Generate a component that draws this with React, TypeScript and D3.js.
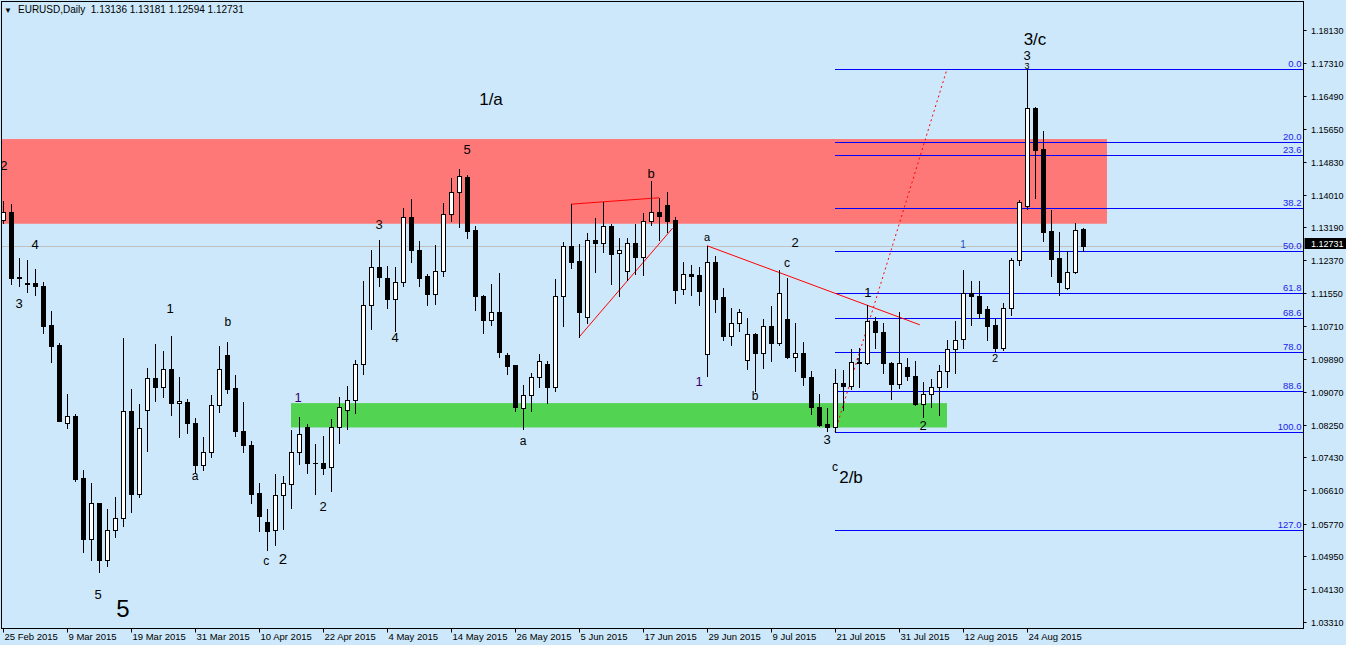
import React from "react";
import * as d3 from "d3";

// ---- categories (trading days, Feb 25 – Sep 2 2015) ----
const tradingDays: [string, number[]][] = [
  ["Feb", [25, 26, 27]],
  ["Mar", [2, 3, 4, 5, 6, 9, 10, 11, 12, 13, 16, 17, 18, 19, 20, 23, 24, 25, 26, 27, 30, 31]],
  ["Apr", [1, 2, 3, 6, 7, 8, 9, 10, 13, 14, 15, 16, 17, 20, 21, 22, 23, 24, 27, 28, 29, 30]],
  ["May", [1, 4, 5, 6, 7, 8, 11, 12, 13, 14, 15, 18, 19, 20, 21, 22, 25, 26, 27, 28, 29]],
  ["Jun", [1, 2, 3, 4, 5, 8, 9, 10, 11, 12, 15, 16, 17, 18, 19, 22, 23, 24, 25, 26, 29, 30]],
  ["Jul", [1, 2, 3, 6, 7, 8, 9, 10, 13, 14, 15, 16, 17, 20, 21, 22, 23, 24, 27, 28, 29, 30, 31]],
  ["Aug", [3, 4, 5, 6, 7, 10, 11, 12, 13, 14, 17, 18, 19, 20, 21, 24, 25, 26, 27, 28, 31]],
  ["Sep", [1, 2]],
];
const dates: string[] = tradingDays.flatMap(([m, ds]) => ds.map((d) => `${d} ${m} 2015`));

// ---- OHLC series ----
const opens = [
  1.1337, 1.1357, 1.1195, 1.1179, 1.1180, 1.1172, 1.1075, 1.1025, 1.0828, 1.0846,
  1.0692, 1.0540, 1.0629, 1.0486, 1.0561, 1.0591, 1.0859, 1.0652, 1.0861, 1.0941,
  1.0919, 1.0964, 1.0879, 1.0882, 1.0829, 1.0725, 1.0756, 1.0874, 1.0999, 1.0916,
  1.0810, 1.0774, 1.0654, 1.0582, 1.0561, 1.0648, 1.0677, 1.0756, 1.0818, 1.0730,
  1.0729, 1.0718, 1.0819, 1.0861, 1.0887, 1.0976, 1.1124, 1.1219, 1.1192, 1.1140,
  1.1182, 1.1344, 1.1262, 1.1197, 1.1151, 1.1209, 1.1352, 1.1407, 1.1445, 1.1312,
  1.1147, 1.1088, 1.1107, 1.0999, 1.0974, 1.0866, 1.0899, 1.0944, 1.0977, 1.0920,
  1.1146, 1.1272, 1.1234, 1.1094, 1.1287, 1.1279, 1.1322, 1.1254, 1.1209, 1.1279,
  1.1244, 1.1334, 1.1357, 1.1374, 1.1337, 1.1164, 1.1201, 1.1199, 1.1001, 1.1232,
  1.1145, 1.1048, 1.1079, 1.0986, 1.1051, 1.1005, 1.1071, 1.1030, 1.1089, 1.0995,
  1.1004, 1.0945, 1.0869, 1.0827, 1.0819, 1.0929, 1.0923, 1.0981, 1.0979, 1.1085,
  1.1056, 1.0979, 1.0926, 1.0969, 1.0947, 1.0876, 1.0901, 1.0920, 1.0960, 1.1014,
  1.1039, 1.1154, 1.1147, 1.1115, 1.1075, 1.1018, 1.1117, 1.1236, 1.1373, 1.1618,
  1.1515, 1.1310, 1.1242, 1.1167, 1.1206, 1.13136,
];
const highs = [
  1.1386, 1.1377, 1.1242, 1.1237, 1.1215, 1.1182, 1.1110, 1.1029, 1.0902, 1.0851,
  1.0712, 1.0679, 1.0630, 1.0614, 1.0644, 1.1042, 1.0914, 1.0877, 1.0968, 1.1026,
  1.1010, 1.1048, 1.0944, 1.0889, 1.0842, 1.0794, 1.0899, 1.1022, 1.1032, 1.0949,
  1.0882, 1.0785, 1.0679, 1.0614, 1.0702, 1.0697, 1.0812, 1.0844, 1.0826, 1.0777,
  1.0797, 1.0839, 1.0894, 1.0922, 1.0986, 1.1185, 1.1262, 1.1287, 1.1222, 1.1220,
  1.1367, 1.1390, 1.1285, 1.1202, 1.1275, 1.1380, 1.1443, 1.1465, 1.1449, 1.1322,
  1.1149, 1.1177, 1.1205, 1.1004, 1.0975, 1.0924, 1.0954, 1.1002, 1.0985, 1.1190,
  1.1283, 1.1377, 1.1277, 1.1304, 1.1342, 1.1383, 1.1328, 1.1292, 1.1292, 1.1328,
  1.1356, 1.1435, 1.1393, 1.1408, 1.1345, 1.1232, 1.1224, 1.1219, 1.1273, 1.1246,
  1.1168, 1.1117, 1.1115, 1.1092, 1.1055, 1.1090, 1.1122, 1.1212, 1.1192, 1.1079,
  1.1032, 1.0960, 1.0902, 1.0866, 1.0964, 1.0962, 1.1015, 1.1017, 1.1124, 1.1094,
  1.1079, 1.0983, 1.1108, 1.0991, 1.0984, 1.0931, 1.0939, 1.0975, 1.1037, 1.1085,
  1.1211, 1.1185, 1.1185, 1.1122, 1.1090, 1.1129, 1.1242, 1.1388, 1.1715, 1.1621,
  1.1561, 1.1362, 1.1307, 1.1259, 1.1330, 1.13181,
];
const lows = [
  1.1331, 1.1178, 1.1171, 1.1156, 1.1150, 1.1055, 1.0983, 1.0833, 1.0816, 1.0685,
  1.0505, 1.0486, 1.0455, 1.0471, 1.0545, 1.0572, 1.0607, 1.0643, 1.0760, 1.0885,
  1.0894, 1.0850, 1.0795, 1.0803, 1.0703, 1.0712, 1.0745, 1.0857, 1.0904, 1.0797,
  1.0757, 1.0630, 1.0560, 1.0511, 1.0524, 1.0564, 1.0617, 1.0727, 1.0705, 1.0652,
  1.0702, 1.0660, 1.0778, 1.0813, 1.0855, 1.0953, 1.1065, 1.1171, 1.1118, 1.1060,
  1.1171, 1.1233, 1.1173, 1.1125, 1.1128, 1.1197, 1.1336, 1.1321, 1.1293, 1.1113,
  1.1055, 1.1075, 1.0995, 1.0953, 1.0858, 1.0813, 1.0860, 1.0920, 1.0879, 1.0910,
  1.1073, 1.1218, 1.1044, 1.1079, 1.1208, 1.1256, 1.1178, 1.1146, 1.1186, 1.1202,
  1.1200, 1.1326, 1.1287, 1.1307, 1.1130, 1.1151, 1.1149, 1.1125, 1.0948, 1.1107,
  1.1038, 1.1025, 1.1060, 1.0964, 1.0909, 1.0968, 1.0985, 1.1025, 1.0993, 1.0960,
  1.0924, 1.0851, 1.0822, 1.0808, 1.0807, 1.0862, 1.0915, 1.0920, 1.0978, 1.1016,
  1.0955, 1.0889, 1.0916, 1.0937, 1.0874, 1.0845, 1.0868, 1.0850, 1.0920, 1.0954,
  1.1018, 1.1075, 1.1093, 1.1037, 1.1010, 1.1012, 1.1100, 1.1225, 1.1365, 1.1392,
  1.1285, 1.1198, 1.1150, 1.1165, 1.1204, 1.12594,
];
const closes = [
  1.1357, 1.1193, 1.1191, 1.1178, 1.1171, 1.1073, 1.1023, 1.0835, 1.0846, 1.0689,
  1.0540, 1.0629, 1.0487, 1.0561, 1.0591, 1.0859, 1.0652, 1.0816, 1.0941, 1.0919,
  1.0964, 1.0878, 1.0884, 1.0828, 1.0724, 1.0756, 1.0874, 1.0964, 1.0915, 1.0808,
  1.0775, 1.0652, 1.0597, 1.0560, 1.0648, 1.0679, 1.0756, 1.0801, 1.0730, 1.0729,
  1.0717, 1.0819, 1.0869, 1.0887, 1.0976, 1.1124, 1.1219, 1.1194, 1.1140, 1.1182,
  1.1344, 1.1262, 1.1193, 1.1151, 1.1209, 1.1352, 1.1408, 1.1447, 1.1311, 1.1146,
  1.1088, 1.1106, 1.1008, 1.0973, 1.0868, 1.0899, 1.0944, 1.0984, 1.0920, 1.1147,
  1.1272, 1.1233, 1.1108, 1.1287, 1.1279, 1.1322, 1.1253, 1.1262, 1.1279, 1.1244,
  1.1334, 1.1357, 1.1348, 1.1336, 1.1163, 1.1201, 1.1198, 1.1160, 1.1232, 1.1140,
  1.1048, 1.1079, 1.1106, 1.1051, 1.1005, 1.1071, 1.1030, 1.1154, 1.0995, 1.1004,
  1.0944, 1.0868, 1.0823, 1.0818, 1.0929, 1.0923, 1.0981, 1.0979, 1.1085, 1.1056,
  1.0979, 1.0926, 1.0979, 1.0947, 1.0876, 1.0901, 1.0920, 1.0959, 1.1014, 1.1037,
  1.1154, 1.1146, 1.1105, 1.1073, 1.1018, 1.1117, 1.1237, 1.1382, 1.1617, 1.1513,
  1.1308, 1.1240, 1.1183, 1.1207, 1.1312, 1.12731,
];

// ---- axis tick labels ----
const dateTicks = [
  "25 Feb 2015", "9 Mar 2015", "19 Mar 2015", "31 Mar 2015", "10 Apr 2015", "22 Apr 2015",
  "4 May 2015", "14 May 2015", "26 May 2015", "5 Jun 2015", "17 Jun 2015", "29 Jun 2015",
  "9 Jul 2015", "21 Jul 2015", "31 Jul 2015", "12 Aug 2015", "24 Aug 2015",
];
const priceTicks = [
  1.1813, 1.1731, 1.1649, 1.1565, 1.1483, 1.1401, 1.1319, 1.1237, 1.1155, 1.1071,
  1.0989, 1.0907, 1.0825, 1.0743, 1.0661, 1.0577, 1.0495, 1.0413, 1.0331,
];
const lastPrice = 1.12731;

// ---- zones, fibonacci, trend lines, wave labels ----
const redZone = { from: -1, to: 138, top: 1.1540, bottom: 1.1328 };
const greenZone = { from: 36, to: 118, top: 1.0879, bottom: 1.0818 };
const fibAnchor = { lowIdx: 104, low: 1.0807, highIdx: 118, high: 1.1715 };
const fibLevels = [0, 20, 23.6, 38.2, 50, 61.8, 68.6, 78, 88.6, 100, 127];
const trendLines = [
  { i1: 71, p1: 1.1377, i2: 82, p2: 1.1393 },
  { i1: 72, p1: 1.1044, i2: 83.7, p2: 1.1317 },
  { i1: 88, p1: 1.1273, i2: 114.6, p2: 1.1075 },
];
const waveLabels = [
  { t: "2", i: 0.1, p: 1.1475, s: 13, c: "#000" },
  { t: "4", i: 4, p: 1.1275, s: 13, c: "#000" },
  { t: "3", i: 2, p: 1.1128, s: 13, c: "#000" },
  { t: "1", i: 20.9, p: 1.1115, s: 13, c: "#000" },
  { t: "b", i: 28.1, p: 1.1082, s: 12, c: "#000" },
  { t: "a", i: 24, p: 1.0697, s: 12, c: "#000" },
  { t: "5", i: 11.9, p: 1.0399, s: 13, c: "#000" },
  { t: "5", i: 15, p: 1.0366, s: 24, c: "#000" },
  { t: "c", i: 32.9, p: 1.0484, s: 12, c: "#000" },
  { t: "2", i: 35, p: 1.0491, s: 15, c: "#000" },
  { t: "1", i: 36.9, p: 1.0892, s: 13, c: "#3a0070" },
  { t: "2", i: 40, p: 1.0619, s: 13, c: "#000" },
  { t: "3", i: 47, p: 1.1327, s: 13, c: "#1a0a00" },
  { t: "4", i: 49, p: 1.1042, s: 13, c: "#000" },
  { t: "5", i: 58, p: 1.1515, s: 13, c: "#000" },
  { t: "1/a", i: 61, p: 1.1638, s: 17, c: "#000" },
  { t: "a", i: 65, p: 1.0784, s: 12, c: "#000" },
  { t: "b", i: 81, p: 1.1455, s: 13, c: "#000" },
  { t: "a", i: 88, p: 1.1295, s: 11, c: "#000" },
  { t: "1", i: 87, p: 1.0932, s: 13, c: "#3a0070" },
  { t: "2", i: 99, p: 1.1280, s: 13, c: "#000" },
  { t: "c", i: 98, p: 1.1230, s: 12, c: "#000" },
  { t: "b", i: 94, p: 1.0897, s: 12, c: "#000" },
  { t: "3", i: 103, p: 1.0787, s: 13, c: "#000" },
  { t: "c", i: 104, p: 1.0719, s: 12, c: "#000" },
  { t: "2/b", i: 106, p: 1.0692, s: 17, c: "#000" },
  { t: "1", i: 108.1, p: 1.1155, s: 13, c: "#000" },
  { t: "1", i: 106.9, p: 1.0985, s: 9, c: "#000" },
  { t: "1", i: 120, p: 1.1277, s: 10, c: "#1e50c8" },
  { t: "2", i: 115, p: 1.0824, s: 13, c: "#000" },
  { t: "2", i: 124, p: 1.0992, s: 11, c: "#000" },
  { t: "3", i: 128, p: 1.1750, s: 13, c: "#000" },
  { t: "3", i: 128, p: 1.1723, s: 9, c: "#000" },
  { t: "3/c", i: 129, p: 1.1790, s: 17, c: "#000" },
];

const W = 1346;
const H = 645;
const AXIS_X = 1303.5;
const AXIS_Y = 628.5;
const BG = "#cce8fa";
const FONT = "'Liberation Sans', Arial, sans-serif";

export default function App() {
  const x = d3.scaleLinear().domain([0, 128]).range([3, 1027]);
  const y = d3.scaleLinear().domain([1.0331, 1.1813]).range([622, 30]);
  const fibX1 = x(Math.min(fibAnchor.lowIdx, fibAnchor.highIdx));
  const fibPrice = (lv: number) => fibAnchor.high - (lv / 100) * (fibAnchor.high - fibAnchor.low);
  const fmt = d3.format(".5f");

  return (
    <svg
      width={W}
      height={H}
      style={{ position: "absolute", left: 0, top: 0, display: "block" }}
      fontFamily={FONT}
    >
      <rect x={0} y={0} width={W} height={H} fill={BG} />
      <defs>
        <clipPath id="plot">
          <rect x={1.5} y={1.5} width={AXIS_X - 1.5} height={AXIS_Y - 1.5} />
        </clipPath>
      </defs>
      <g clipPath="url(#plot)">
        {/* zones */}
        <rect
          x={x(redZone.from)}
          y={y(redZone.top)}
          width={x(redZone.to) - x(redZone.from)}
          height={y(redZone.bottom) - y(redZone.top)}
          fill="#ff7878"
        />
        <rect
          x={x(greenZone.from)}
          y={y(greenZone.top)}
          width={x(greenZone.to) - x(greenZone.from)}
          height={y(greenZone.bottom) - y(greenZone.top)}
          fill="#52d452"
        />
        {/* bid line */}
        <line x1={0} x2={AXIS_X} y1={Math.round(y(lastPrice)) + 0.5} y2={Math.round(y(lastPrice)) + 0.5} stroke="#c0c0c0" />
        {/* fib levels */}
        {fibLevels.map((lv) => {
          const yy = Math.round(y(fibPrice(lv))) + 0.5;
          return (
            <g key={"fib" + lv}>
              <line x1={fibX1} x2={AXIS_X} y1={yy} y2={yy} stroke="#0000ff" strokeWidth={1} />
              <text x={AXIS_X - 2} y={yy - 2.5} textAnchor="end" fontSize={9.5} fill="#2222ee">
                {lv.toFixed(1)}
              </text>
            </g>
          );
        })}
        <line
          x1={x(fibAnchor.lowIdx)}
          y1={y(fibAnchor.low)}
          x2={x(fibAnchor.highIdx)}
          y2={y(fibAnchor.high)}
          stroke="#ff0000"
          strokeDasharray="2,3"
        />
        {/* trend lines */}
        {trendLines.map((l, k) => (
          <line key={"tl" + k} x1={x(l.i1)} y1={y(l.p1)} x2={x(l.i2)} y2={y(l.p2)} stroke="#ff0000" strokeWidth={1} />
        ))}
        {/* candles */}
        {dates.map((d, i) => {
          const o = opens[i], c = closes[i], h = highs[i], l = lows[i];
          const cx = Math.round(x(i));
          const yh = Math.round(y(h));
          const yl = Math.round(y(l));
          const yt = Math.round(y(Math.max(o, c)));
          const yb = Math.round(y(Math.min(o, c)));
          const bull = c > o;
          return (
            <g key={d}>
              <rect x={cx} y={yh} width={1} height={yl - yh + 1} fill="#000" />
              {bull ? (
                <rect x={cx - 1.5} y={yt + 0.5} width={4} height={Math.max(yb - yt, 1)} fill="#fff" stroke="#000" strokeWidth={1} />
              ) : (
                <rect x={cx - 2} y={yt} width={5} height={Math.max(yb - yt + 1, 1)} fill="#000" />
              )}
            </g>
          );
        })}
        {/* wave labels */}
        {waveLabels.map((w, k) => (
          <text
            key={"wl" + k}
            x={x(w.i)}
            y={y(w.p)}
            fontSize={w.s}
            fill={w.c}
            textAnchor="middle"
            dominantBaseline="central"
          >
            {w.t}
          </text>
        ))}
      </g>

      {/* frame */}
      <rect x={1.5} y={1.5} width={AXIS_X - 1.5} height={AXIS_Y - 1.5} fill="none" stroke="#000" />

      {/* title */}
      <text x={4} y={13} fontSize={8} fill="#000">▼</text>
      <text x={18} y={13} fontSize={10} fill="#000">
        EURUSD,Daily{"\u00a0\u00a0"}1.13136 1.13181 1.12594 1.12731
      </text>

      {/* price axis */}
      {priceTicks.map((p) => {
        const yy = Math.round(y(p)) + 0.5;
        return (
          <g key={"pt" + p}>
            <line x1={AXIS_X} x2={AXIS_X + 3} y1={yy} y2={yy} stroke="#000" />
            <text x={1311} y={yy} fontSize={9} fill="#000" dominantBaseline="central">
              {fmt(p)}
            </text>
          </g>
        );
      })}
      <rect x={AXIS_X + 1} y={Math.round(y(lastPrice)) - 8} width={W - AXIS_X} height={11} fill="#000" />
      <text x={1311} y={Math.round(y(lastPrice)) - 2.5} fontSize={9} fill="#fff" dominantBaseline="central">
        {fmt(lastPrice)}
      </text>

      {/* date axis */}
      {dateTicks.map((t) => {
        const idx = dates.indexOf(t);
        const xx = Math.round(x(idx)) + 0.5;
        return (
          <g key={"dt" + t}>
            <line x1={xx} x2={xx} y1={AXIS_Y} y2={AXIS_Y + 4} stroke="#000" />
            <text x={xx + 1} y={640} fontSize={9.5} fill="#000">
              {t}
            </text>
          </g>
        );
      })}
    </svg>
  );
}
